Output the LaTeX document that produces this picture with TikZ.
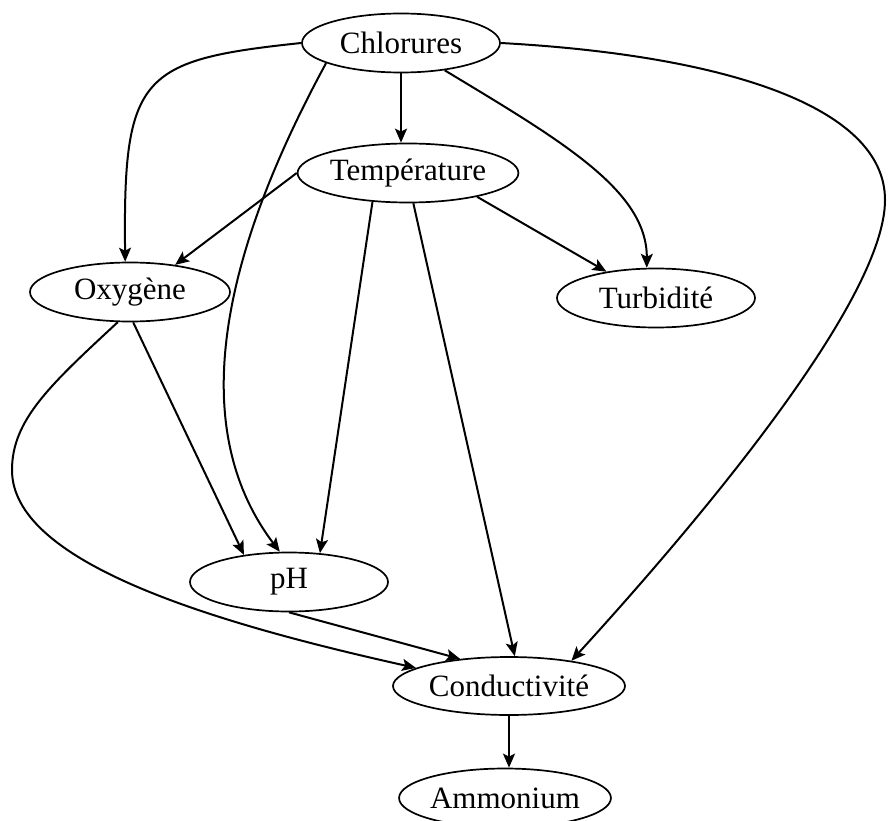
\documentclass[tikz,border=0pt]{standalone}
\usepackage{fontspec}
\setmainfont{Liberation Serif}
\usetikzlibrary{arrows.meta,shapes.geometric}

\begin{document}
\begin{tikzpicture}[x=1pt,y=-1pt,->,>={Stealth[length=14pt,width=12pt,inset=3pt]},line width=2pt,
 var/.style={ellipse,draw,line width=1.7pt,inner sep=0pt,minimum width=198pt,minimum height=59pt,font=\fontsize{31}{36}\selectfont}]
 \clip (0,0) rectangle (888,821);

 % 7 variables
 \node[var] (chl) at (401,43) {Chlorures};
 \node[var,minimum width=220pt] (temp) at (408,173) {Température};
 \node[var,minimum width=200pt] (oxy) at (130,292) {Oxygène};
 \node[var] (turb) at (656,298) {Turbidité};
 \node[var] (ph) at (289,582) {pH};
 \node[var,minimum width=232pt,minimum height=58pt] (cond) at (509,686) {Conductivité};
 \node[var] (amm) at (505,798) {Ammonium};

 % dependencies from Chlorures
 \draw (chl.west) .. controls (140,60) and (123,75) .. (oxy.99);
 \draw (chl.195) .. controls (230,240) and (180,420) .. (ph.107);
 \draw (chl.south) -- (chl.south |- temp.north);
 \draw (chl.328) .. controls (560,140) and (647,190) .. (turb.107);
 \draw (chl.east) .. controls (720,55) and (885,105) .. (885,200)
  .. controls (885,300) and (700,520) .. (cond.22);

 % dependencies from Température
 \draw (temp.west) -- (oxy.31);
 \draw (temp.219) -- (ph.43);
 \draw (temp.280) -- (cond.79);
 \draw (temp.341) -- (turb.152);

 % the others
 \draw (oxy.276) -- (ph.149);
 \draw (oxy.248) .. controls (50,385) and (12,420) .. (12,470)
  .. controls (12,560) and (200,620) .. (cond.169);
 \draw (ph.south) -- (cond.151);
 \draw (cond.south) -- (cond.south |- amm.north);
\end{tikzpicture}
\end{document}
